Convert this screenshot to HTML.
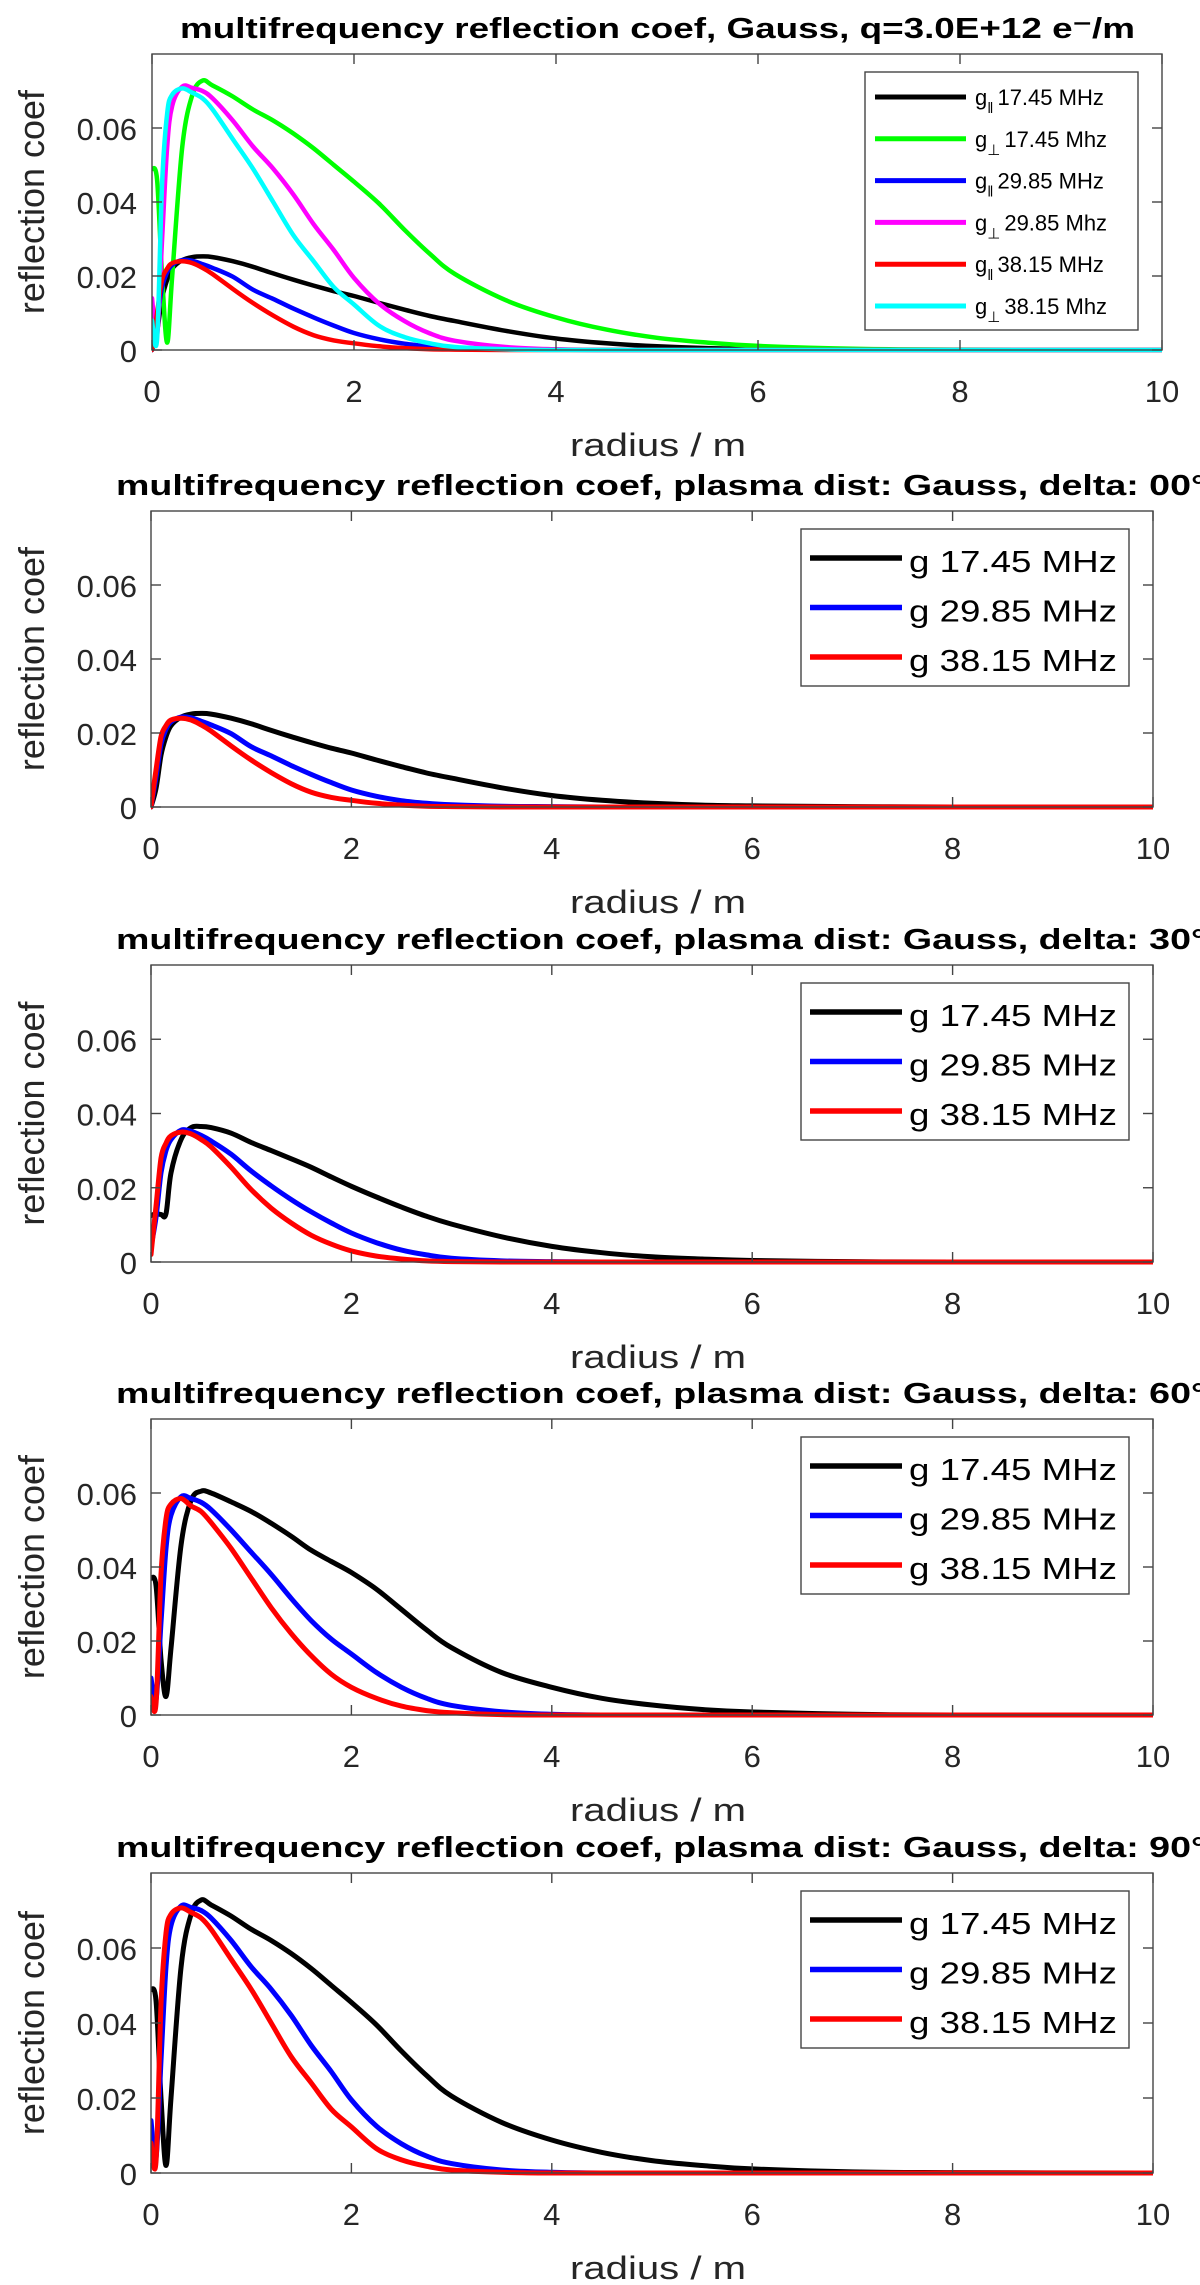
<!DOCTYPE html>
<html><head><meta charset="utf-8"><style>
html,body{margin:0;padding:0;background:#fff;}
svg{display:block;font-family:"Liberation Sans",Arial,sans-serif;}
</style></head><body>
<svg id="fig" width="1200" height="2285" viewBox="0 0 1200 2285" xmlns="http://www.w3.org/2000/svg"></svg>
<script>
// shared radius samples (m)
const radius = [0,0.05,0.1,0.15,0.2,0.3,0.4,0.5,0.6,0.8,1,1.2,1.4,1.6,1.8,2,2.25,2.5,2.75,3,3.5,4,4.5,5,5.5,6,7,8,10];
const xTicks = [0,2,4,6,8,10];
const yTicks = [0,0.02,0.04,0.06];
const yTickLabels = ["0","0.02","0.04","0.06"];
// delta 0
const d0_1745 = [0,0.005,0.014,0.019,0.022,0.0243,0.0251,0.0253,0.0251,0.024,0.0225,0.0207,0.019,0.0174,0.0159,0.0146,0.0127,0.0109,0.0092,0.0078,0.0052,0.0031,0.0018,0.001,0.0005,0.0003,0.0001,0,0];
const d0_2985 = [0,0.008,0.017,0.021,0.023,0.0243,0.0241,0.0232,0.0222,0.0198,0.0163,0.0138,0.0112,0.0088,0.0066,0.0046,0.0029,0.0017,0.001,0.0006,0.0002,0.0001,0,0,0,0,0,0,0];
const d0_3815 = [0,0.01,0.019,0.022,0.0235,0.024,0.0235,0.0222,0.0205,0.0165,0.0127,0.0093,0.0063,0.004,0.0026,0.0018,0.001,0.0005,0.0002,0.0001,0,0,0,0,0,0,0,0,0];
// delta 30
const d30_1745 = [0.0125,0.013,0.0128,0.013,0.024,0.033,0.0362,0.0365,0.0362,0.0347,0.0322,0.03,0.0278,0.0255,0.0229,0.0204,0.0175,0.0148,0.0123,0.0102,0.0068,0.0042,0.0025,0.0014,0.0008,0.0004,0.0001,0,0];
const d30_2985 = [0.004,0.012,0.024,0.03,0.033,0.0355,0.0352,0.0341,0.0326,0.029,0.0245,0.0205,0.0168,0.0135,0.0105,0.0078,0.0052,0.0032,0.0019,0.001,0.0003,0.0001,0,0,0,0,0,0,0];
const d30_3815 = [0.002,0.015,0.028,0.032,0.034,0.035,0.0345,0.033,0.031,0.0255,0.0195,0.0145,0.0105,0.0072,0.0048,0.003,0.0016,0.0008,0.0003,0.0001,0,0,0,0,0,0,0,0,0];
// delta 60
const d60_1745 = [0.037,0.035,0.015,0.005,0.018,0.046,0.058,0.0605,0.06,0.0576,0.055,0.0518,0.0483,0.0445,0.0415,0.0385,0.034,0.0285,0.023,0.0182,0.0115,0.0075,0.0045,0.0027,0.0015,0.0008,0.0002,0,0];
const d60_2985 = [0.01,0.004,0.025,0.045,0.054,0.059,0.0585,0.0575,0.0555,0.05,0.044,0.038,0.0315,0.0255,0.0205,0.0165,0.0115,0.0075,0.0045,0.0026,0.0009,0.0002,0,0,0,0,0,0,0];
const d60_3815 = [0.005,0.003,0.038,0.053,0.057,0.0585,0.0565,0.055,0.052,0.045,0.037,0.029,0.022,0.016,0.011,0.0075,0.0045,0.0024,0.0012,0.0006,0.0001,0,0,0,0,0,0,0,0];
// delta 90 (= perpendicular curves of the top panel)
const d90_1745 = [0.049,0.046,0.02,0.002,0.02,0.055,0.069,0.0728,0.0715,0.0685,0.065,0.062,0.0585,0.0545,0.05,0.0455,0.0395,0.0325,0.026,0.0205,0.0135,0.0088,0.0055,0.0033,0.002,0.0011,0.0003,0.0001,0];
const d90_2985 = [0.014,0.004,0.03,0.055,0.066,0.0712,0.0708,0.07,0.068,0.062,0.055,0.049,0.042,0.034,0.027,0.0195,0.0125,0.0078,0.0045,0.0025,0.0008,0.0002,0,0,0,0,0,0,0];
const d90_3815 = [0.008,0.003,0.045,0.064,0.069,0.0707,0.0695,0.068,0.065,0.057,0.049,0.04,0.031,0.024,0.017,0.0123,0.0065,0.0035,0.0018,0.0008,0.0002,0,0,0,0,0,0,0,0];

const NS = "http://www.w3.org/2000/svg";
const svg = document.getElementById('fig');
function mk(tag, attrs, parent){
  const e = document.createElementNS(NS, tag);
  for (const k in attrs) e.setAttribute(k, attrs[k]);
  (parent||svg).appendChild(e);
  return e;
}
function pathFrom(pts){
  let d = "M" + pts[0][0].toFixed(1) + "," + pts[0][1].toFixed(1);
  for (let i=0;i<pts.length-1;i++){
    const p0=pts[Math.max(0,i-1)], p1=pts[i], p2=pts[i+1], p3=pts[Math.min(pts.length-1,i+2)];
    const c1x=p1[0]+(p2[0]-p0[0])/6, c1y=p1[1]+(p2[1]-p0[1])/6;
    const c2x=p2[0]-(p3[0]-p1[0])/6, c2y=p2[1]-(p3[1]-p1[1])/6;
    d += " C"+c1x.toFixed(1)+","+c1y.toFixed(1)+" "+c2x.toFixed(1)+","+c2y.toFixed(1)+" "+p2[0].toFixed(1)+","+p2[1].toFixed(1);
  }
  return d;
}

const panels = [
  {top:54, zero:350, left:152, right:1162, title:"multifrequency reflection coef, Gauss, q=3.0E+12 e\u207B/m", tx:180, tlen:955,
   series:[[d0_1745,"#000000"],[d90_1745,"#00ff00"],[d0_2985,"#0000ff"],[d90_2985,"#ff00ff"],[d0_3815,"#ff0000"],[d90_3815,"#00ffff"]], big:true},
  {top:511, zero:807, left:151, right:1153, title:"multifrequency reflection coef, plasma dist: Gauss, delta: 00\u00B0", tx:116, tlen:1090,
   series:[[d0_1745,"#000000"],[d0_2985,"#0000ff"],[d0_3815,"#ff0000"]]},
  {top:965, zero:1262, left:151, right:1153, title:"multifrequency reflection coef, plasma dist: Gauss, delta: 30\u00B0", tx:116, tlen:1090,
   series:[[d30_1745,"#000000"],[d30_2985,"#0000ff"],[d30_3815,"#ff0000"]]},
  {top:1419, zero:1715, left:151, right:1153, title:"multifrequency reflection coef, plasma dist: Gauss, delta: 60\u00B0", tx:116, tlen:1090,
   series:[[d60_1745,"#000000"],[d60_2985,"#0000ff"],[d60_3815,"#ff0000"]]},
  {top:1873, zero:2173, left:151, right:1153, title:"multifrequency reflection coef, plasma dist: Gauss, delta: 90\u00B0", tx:116, tlen:1090,
   series:[[d90_1745,"#000000"],[d90_2985,"#0000ff"],[d90_3815,"#ff0000"]]}
];
const legendSmall = ["17.45 MHz","29.85 MHz","38.15 MHz"];
const legendBig = [["\u2016","17.45 MHz"],["\u22A5","17.45 Mhz"],["\u2016","29.85 MHz"],["\u22A5","29.85 Mhz"],["\u2016","38.15 MHz"],["\u22A5","38.15 Mhz"]];

panels.forEach((P, pi) => {
  const g = mk('g', {});
  
  
  const xs = v => P.left + (v/10)*(P.right-P.left);
  const ys = v => P.zero - (v/0.08)*(P.zero-P.top);
  const t = mk('text', {x:P.tx, y:P.top-16, 'font-size':29, 'font-weight':'bold', fill:'#000', textLength:P.tlen, lengthAdjust:'spacingAndGlyphs'}, g);
  
  
  t.textContent = P.title;
  const cid = 'clip'+pi;
  const defs = mk('defs', {}, g);
  const cp = mk('clipPath', {id:cid}, defs);
  mk('rect', {x:P.left, y:P.top, width:P.right-P.left, height:P.zero-P.top+4}, cp);
  const sg = mk('g', {'clip-path':'url(#'+cid+')'}, g);
  P.series.forEach((s, si) => {
    const pts = radius.map((r,i)=>[xs(r), ys(s[0][i])]);
    const p = mk('path', {d:pathFrom(pts), fill:'none', stroke:s[1], 'stroke-width':P.big?4.5:5, 'stroke-linejoin':'round', 'stroke-linecap':'round'}, sg);
    
    
  });
  const box = mk('rect', {x:P.left, y:P.top, width:P.right-P.left, height:P.zero-P.top, fill:'none', stroke:'#444', 'stroke-width':1.4}, g);
  
  
  xTicks.forEach(v => {
    const x = xs(v);
    mk('line', {x1:x, x2:x, y1:P.zero, y2:P.zero-10, stroke:'#444', 'stroke-width':1.4}, g);
    mk('line', {x1:x, x2:x, y1:P.top, y2:P.top+10, stroke:'#444', 'stroke-width':1.4}, g);
    const tl = mk('text', {x:x, y:P.zero+52, 'font-size':31, fill:'#262626', 'text-anchor':'middle'}, g);
    
    
    tl.textContent = String(v);
  });
  yTicks.forEach((v,i) => {
    const y = ys(v);
    mk('line', {x1:P.left, x2:P.left+10, y1:y, y2:y, stroke:'#444', 'stroke-width':1.4}, g);
    mk('line', {x1:P.right, x2:P.right-10, y1:y, y2:y, stroke:'#444', 'stroke-width':1.4}, g);
    const tl = mk('text', {x:137, y:y+12, 'font-size':31, fill:'#262626', 'text-anchor':'end'}, g);
    
    
    tl.textContent = yTickLabels[i];
  });
  const xl = mk('text', {x:570, y:P.zero+106, 'font-size':32, fill:'#262626', textLength:176, lengthAdjust:'spacingAndGlyphs'}, g);
  
  
  xl.textContent = "radius / m";
  const cy = (P.top+P.zero)/2;
  const yl = mk('text', {x:0, y:0, 'font-size':36, fill:'#262626', 'text-anchor':'middle', transform:'translate(44,'+cy+') rotate(-90)'}, g);
  
  
  yl.textContent = "reflection coef";
  const lg = mk('g', {}, g);
  
  
  if (P.big){
    mk('rect', {x:865, y:72, width:273, height:258, fill:'#fff', stroke:'#444', 'stroke-width':1.4}, lg);
    legendBig.forEach((L,i) => {
      const y = 97 + i*41.8;
      const ln = mk('line', {x1:875, x2:966, y1:y, y2:y, stroke:P.series[i][1], 'stroke-width':5}, lg);
      
      
      const tx = mk('text', {x:975, y:y+8, 'font-size':22, fill:'#000'}, lg);
      
      
      tx.textContent = "g";
      const sub = mk('tspan', {dy:8, 'font-size':15}, tx);
      sub.textContent = L[0];
      const rest = mk('tspan', {dy:-8, dx:4}, tx);
      rest.textContent = L[1];
    });
  } else {
    const bt = P.top + 18;
    mk('rect', {x:801, y:bt, width:328, height:157, fill:'#fff', stroke:'#444', 'stroke-width':1.4}, lg);
    legendSmall.forEach((L,i) => {
      const y = bt + 29 + i*49.5;
      const ln = mk('line', {x1:810, x2:902, y1:y, y2:y, stroke:P.series[i][1], 'stroke-width':5.5}, lg);
      
      
      const tx = mk('text', {x:909, y:y+14, 'font-size':31, fill:'#000', textLength:208, lengthAdjust:'spacingAndGlyphs'}, lg);
      
      
      tx.textContent = "g " + L;
    });
  }
});
</script>
</body></html>
